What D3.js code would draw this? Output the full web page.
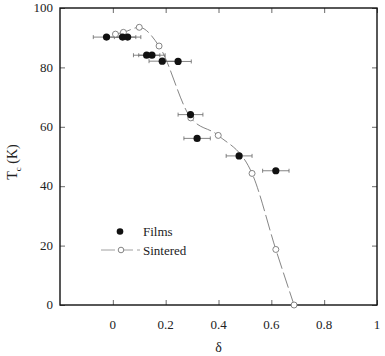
<!DOCTYPE html>
<html>
<head>
<meta charset="utf-8">
<script src="https://cdn.jsdelivr.net/npm/d3@7"></script>
<style>
  body { margin: 0; background: #fff; }
</style>
</head>
<body>
<div id="graph"></div>
<script>
var width = 385;
var height = 356;
var margin = { top: 8, right: 8, bottom: 51, left: 60 };
var serif = "'Times New Roman', 'Liberation Serif', 'DejaVu Serif', serif";

// films: delta, Tc, error in delta
var filmDelta = [-0.024, 0.037, 0.056, 0.128, 0.148, 0.187, 0.247, 0.294, 0.319, 0.478, 0.617];
var filmTc    = [90.2, 90.2, 90.2, 84.1, 84.1, 82.1, 82.0, 64.1, 56.1, 50.2, 45.2];
var filmErr   = [0.05, 0.05, 0.05, 0.05, 0.05, 0.05, 0.05, 0.047, 0.05, 0.049, 0.05];

// sintered samples
var sintDelta = [0.01, 0.04, 0.1, 0.175, 0.295, 0.399, 0.527, 0.617, 0.686];
var sintTc    = [91.2, 91.8, 93.5, 87.2, 63.0, 57.1, 44.3, 18.7, 0];

var xTicks = [0, 0.2, 0.4, 0.6, 0.8, 1];
var yTicks = [0, 20, 40, 60, 80, 100];

var svg = d3.select("#graph").append("svg")
  .attr("width", width)
  .attr("height", height)
  .attr("font-family", serif);

var x = d3.scaleLinear().domain([-0.2, 1]).range([margin.left, width - margin.right]);
var y = d3.scaleLinear().domain([0, 100]).range([height - margin.bottom, margin.top]);

var films = filmDelta.map(function(d, i) { return { d: d, t: filmTc[i], e: filmErr[i] }; });
var sint = sintDelta.map(function(d, i) { return { d: d, t: sintTc[i] }; });

// minor / major ticks, inward on all four sides
var minorX = d3.range(-0.2, 1.0001, 0.05);
var minorY = d3.range(0, 100.001, 5);

function tickLines(axisFn, scale, vals, len) {
  return axisFn(scale).tickValues(vals).tickSize(-len).tickFormat("");
}

var plotW = width - margin.left - margin.right;
var plotH = height - margin.top - margin.bottom;

[[d3.axisBottom, "translate(0," + y(0) + ")", x, minorX, xTicks],
 [d3.axisTop, "translate(0," + y(100) + ")", x, minorX, xTicks],
 [d3.axisLeft, "translate(" + x(-0.2) + ",0)", y, minorY, yTicks],
 [d3.axisRight, "translate(" + x(1) + ",0)", y, minorY, yTicks]].forEach(function(a) {
  var g = svg.append("g").attr("transform", a[1]);
  g.call(tickLines(a[0], a[2], a[3], 3));
  g.call(tickLines(a[0], a[2], a[4], 5));
  g.selectAll(".domain").remove();
  g.selectAll("line").attr("stroke", "#444").attr("stroke-width", 0.8);
});

// frame
svg.append("rect")
  .attr("x", x(-0.2)).attr("y", y(100))
  .attr("width", plotW).attr("height", plotH)
  .attr("fill", "none").attr("stroke", "#111").attr("stroke-width", 1.4);

// tick labels
svg.append("g").selectAll("text").data(xTicks).enter().append("text")
  .attr("x", function(d) { return x(d); })
  .attr("y", y(0) + 24)
  .attr("text-anchor", "middle")
  .attr("font-size", 13)
  .attr("fill", "#222")
  .text(function(d) { return d === 0 || d === 1 ? String(d) : d3.format(".1f")(d); });

svg.append("g").selectAll("text").data(yTicks).enter().append("text")
  .attr("x", x(-0.2) - 7)
  .attr("y", function(d) { return y(d); })
  .attr("dy", "0.33em")
  .attr("text-anchor", "end")
  .attr("font-size", 13)
  .attr("fill", "#222")
  .text(function(d) { return d; });

// axis titles
svg.append("text")
  .attr("x", x(0.4))
  .attr("y", 352)
  .attr("text-anchor", "middle")
  .attr("font-size", 14)
  .attr("fill", "#222")
  .text("δ");

var yl = svg.append("text")
  .attr("transform", "translate(17,162) rotate(-90)")
  .attr("text-anchor", "middle")
  .attr("font-size", 14)
  .attr("fill", "#222");
yl.append("tspan").text("T");
yl.append("tspan").attr("font-size", 9).attr("dy", 4).text("c");
yl.append("tspan").attr("dy", -4).text(" (K)");

// sintered fit line
var line = d3.line()
  .x(function(d) { return x(d.d); })
  .y(function(d) { return y(d.t); })
  .curve(d3.curveMonotoneX);

svg.append("path")
  .datum(sint)
  .attr("d", line)
  .attr("fill", "none")
  .attr("stroke", "#777")
  .attr("stroke-width", 0.9)
  .attr("stroke-dasharray", "16,4");

// error bars
var eb = svg.append("g").selectAll("g").data(films).enter().append("g")
  .attr("stroke", "#666").attr("stroke-width", 0.8);
eb.append("line")
  .attr("x1", function(d) { return x(d.d - d.e); })
  .attr("x2", function(d) { return x(d.d + d.e); })
  .attr("y1", function(d) { return y(d.t); })
  .attr("y2", function(d) { return y(d.t); });
eb.append("line")
  .attr("x1", function(d) { return x(d.d - d.e); })
  .attr("x2", function(d) { return x(d.d - d.e); })
  .attr("y1", function(d) { return y(d.t) - 2; })
  .attr("y2", function(d) { return y(d.t) + 2; });
eb.append("line")
  .attr("x1", function(d) { return x(d.d + d.e); })
  .attr("x2", function(d) { return x(d.d + d.e); })
  .attr("y1", function(d) { return y(d.t) - 2; })
  .attr("y2", function(d) { return y(d.t) + 2; });

// sintered points
svg.append("g").selectAll("circle").data(sint).enter().append("circle")
  .attr("cx", function(d) { return x(d.d); })
  .attr("cy", function(d) { return y(d.t); })
  .attr("r", 3)
  .attr("fill", "#fff")
  .attr("stroke", "#777")
  .attr("stroke-width", 0.9);

// film points
svg.append("g").selectAll("circle").data(films).enter().append("circle")
  .attr("cx", function(d) { return x(d.d); })
  .attr("cy", function(d) { return y(d.t); })
  .attr("r", 3.6)
  .attr("fill", "#111");

// legend
var lg = svg.append("g");
lg.append("circle").attr("cx", 120).attr("cy", 231.5).attr("r", 3.3).attr("fill", "#111");
lg.append("text").attr("x", 143).attr("y", 231.5).attr("dy", "0.35em").attr("font-size", 13)
  .attr("fill", "#222").text("Films");
lg.append("line").attr("x1", 101).attr("x2", 140).attr("y1", 250).attr("y2", 250)
  .attr("stroke", "#888").attr("stroke-width", 0.8).attr("stroke-dasharray", "14,4");
lg.append("circle").attr("cx", 121).attr("cy", 250).attr("r", 2.8)
  .attr("fill", "#fff").attr("stroke", "#777").attr("stroke-width", 0.9);
lg.append("text").attr("x", 143).attr("y", 250).attr("dy", "0.35em").attr("font-size", 13)
  .attr("fill", "#222").text("Sintered");
</script>
</body>
</html>
